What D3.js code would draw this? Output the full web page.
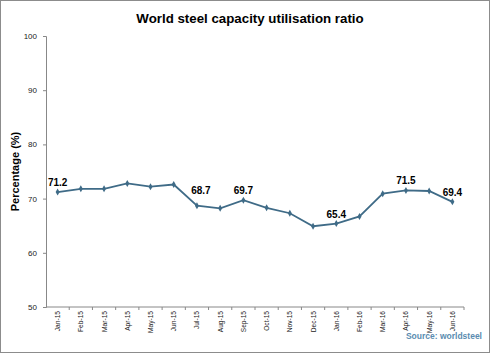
<!DOCTYPE html>
<html>
<head>
<meta charset="utf-8">
<script src="https://cdn.jsdelivr.net/npm/d3@7"></script>
<style>
  body { margin: 0; background: #fff; }
  svg { display: block; font-family: "Liberation Sans", Arial, sans-serif; }
</style>
</head>
<body>
<svg id="chart" width="490" height="353"></svg>
<script>
// Data.
const months = ["Jan-15", "Feb-15", "Mar-15", "Apr-15", "May-15", "Jun-15",
    "Jul-15", "Aug-15", "Sep-15", "Oct-15", "Nov-15", "Dec-15",
    "Jan-16", "Feb-16", "Mar-16", "Apr-16", "May-16", "Jun-16"];
const ratio = [71.2, 71.8, 71.8, 72.8, 72.2, 72.6, 68.7, 68.2, 69.7, 68.3,
    67.3, 64.9, 65.4, 66.7, 70.9, 71.5, 71.4, 69.4];
const labelled = ["Jan-15", "Jul-15", "Sep-15", "Jan-16", "Apr-16", "Jun-16"];
const yTicks = [50, 60, 70, 80, 90, 100];

const W = 490, H = 353;
const margin = { top: 36, right: 26, bottom: 46, left: 46 };
const svg = d3.select("#chart");

// Outer frame.
svg.append("rect")
    .attr("x", 0.5).attr("y", 0.5)
    .attr("width", W - 1).attr("height", H - 1)
    .attr("fill", "#fff").attr("stroke", "#8c8c8c");

const x = d3.scaleBand()
    .domain(months)
    .range([margin.left, W - margin.right]);
const y = d3.scaleLinear()
    .domain([50, 100])
    .range([H - margin.bottom, margin.top]);

// Title.
svg.append("text")
    .attr("x", 250).attr("y", 23)
    .attr("text-anchor", "middle")
    .attr("font-size", 13.3).attr("font-weight", "bold")
    .text("World steel capacity utilisation ratio");

// Y axis.
const yAxis = svg.append("g")
    .attr("transform", `translate(${margin.left},0)`)
    .call(d3.axisLeft(y).tickValues(yTicks).tickSize(3).tickPadding(6));
yAxis.selectAll("text").attr("font-size", 8).attr("fill", "#222");
yAxis.selectAll("line, path").attr("stroke", "#888");

svg.append("text")
    .attr("transform", `translate(19,${(margin.top + H - margin.bottom) / 2}) rotate(-90)`)
    .attr("text-anchor", "middle")
    .attr("font-size", 11).attr("font-weight", "bold")
    .text("Percentage (%)");

// X axis: ticks sit on band edges, labels in band centres.
const xAxisG = svg.append("g")
    .attr("transform", `translate(0,${H - margin.bottom})`);
xAxisG.append("line")
    .attr("x1", margin.left).attr("x2", W - margin.right)
    .attr("stroke", "#888");
xAxisG.selectAll(".tk")
    .data(months)
    .join("line")
    .attr("x1", (d) => x(d) + x.bandwidth())
    .attr("x2", (d) => x(d) + x.bandwidth())
    .attr("y1", 0).attr("y2", 3)
    .attr("stroke", "#888");
xAxisG.selectAll(".lbl")
    .data(months)
    .join("text")
    .attr("transform", (d) => `translate(${x(d) + x.bandwidth() / 2 + 2.5},4) rotate(-90)`)
    .attr("text-anchor", "end")
    .attr("font-size", 6.6).attr("fill", "#222")
    .text((d) => d);

// Line and markers.
const pts = months.map((m, i) => ({ m, v: ratio[i] }));
const cx = (d) => x(d.m) + x.bandwidth() / 2;
svg.append("path")
    .datum(pts)
    .attr("fill", "none")
    .attr("stroke", "#3f6b87")
    .attr("stroke-width", 1.8)
    .attr("d", d3.line().x(cx).y((d) => y(d.v)));
svg.selectAll(".pt")
    .data(pts)
    .join("path")
    .attr("transform", (d) => `translate(${cx(d)},${y(d.v)})`)
    .attr("d", d3.symbol(d3.symbolDiamond, 14))
    .attr("fill", "#3f6b87");

// Value labels (the July one sits higher, clear of the falling line).
svg.selectAll(".val")
    .data(pts.filter((d) => labelled.includes(d.m)))
    .join("text")
    .attr("x", (d) => cx(d) + (d.m === "Jul-15" ? 4 : 0))
    .attr("y", (d) => y(d.v) - (d.m === "Jul-15" ? 12 : 6))
    .attr("text-anchor", "middle")
    .attr("font-size", 10).attr("font-weight", "bold")
    .text((d) => d.v.toFixed(1));

// Source.
svg.append("text")
    .attr("x", 482).attr("y", 339)
    .attr("text-anchor", "end")
    .attr("font-size", 8.5).attr("font-weight", "bold")
    .attr("fill", "#5a8cb0")
    .text("Source: worldsteel");
</script>
</body>
</html>
